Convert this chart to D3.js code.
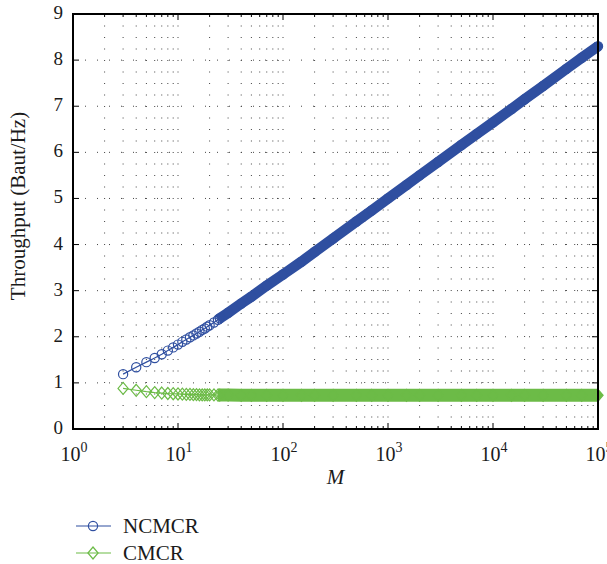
<!DOCTYPE html>
<html>
<head>
<meta charset="utf-8">
<script src="https://cdn.jsdelivr.net/npm/d3@7"></script>
<style>
  body { margin: 0; background: #fff; }
  svg text { font-family: "Liberation Serif", "DejaVu Serif", serif; fill: #1a1a1a; }
</style>
</head>
<body>
<div id="chart"></div>
<script>
// ---------- data ----------
var mValues = [3, 4, 5, 6, 7, 8, 9, 10, 11, 12, 13, 14, 15, 16, 17, 18, 19, 20, 22, 24,
               25, 30, 40, 50, 70, 100, 150, 200, 300, 500, 700, 1000, 1500, 2000,
               3000, 5000, 7000, 10000, 15000, 20000, 30000, 50000, 70000, 100000];
var ncmcr = [1.19, 1.34, 1.45, 1.54, 1.62, 1.70, 1.77, 1.83, 1.89, 1.94, 1.99, 2.03, 2.07, 2.11, 2.15, 2.18, 2.22, 2.25, 2.31, 2.37,
             2.40, 2.52, 2.72, 2.87, 3.11, 3.35, 3.63, 3.84, 4.13, 4.50, 4.74, 5.00, 5.29, 5.50,
             5.79, 6.16, 6.40, 6.65, 6.94, 7.15, 7.44, 7.81, 8.05, 8.30];
var cmcr = [0.88, 0.84, 0.81, 0.79, 0.78, 0.77, 0.765, 0.76, 0.755, 0.75, 0.75, 0.745, 0.745, 0.74, 0.74, 0.74, 0.74, 0.74, 0.74, 0.735,
            0.735, 0.735, 0.73, 0.73, 0.73, 0.73, 0.73, 0.73, 0.73, 0.73, 0.73, 0.73, 0.73, 0.73,
            0.73, 0.73, 0.73, 0.73, 0.73, 0.73, 0.73, 0.73, 0.73, 0.73];
var seriesNames = ["NCMCR", "CMCR"];
var yTicks = [0, 1, 2, 3, 4, 5, 6, 7, 8, 9];
var xExponents = [0, 1, 2, 3, 4, 5];

// ---------- layout ----------
var width = 607, height = 564;
var m = {left: 73, right: 598, top: 14, bottom: 429};
var blue = "#2f4fa0", green = "#6cbb47";

var svg = d3.select("#chart").append("svg")
    .attr("width", width)
    .attr("height", height);

var x_scale = d3.scaleLog().domain([1, 1e5]).range([m.left, m.right]);
var y_scale = d3.scaleLinear().domain([0, 9]).range([m.bottom, m.top]);

// ---------- grid ----------
var minorX = [];
xExponents.forEach(function(e) {
  for (var k = 1; k <= 9; k++) {
    var v = k * Math.pow(10, e);
    if (v <= 1e5) minorX.push(v);
  }
});

svg.append("g").selectAll("line")
   .data(minorX.filter(function(v){ return v > 1 && v < 1e5; }))
   .enter().append("line")
   .attr("x1", function(d){ return x_scale(d); })
   .attr("x2", function(d){ return x_scale(d); })
   .attr("y1", m.bottom).attr("y2", m.top)
   .style("stroke", "#444")
   .style("stroke-width", 1)
   .style("stroke-dasharray", "1,10.5");

svg.append("g").selectAll("line")
   .data(yTicks.slice(1, -1))
   .enter().append("line")
   .attr("x1", m.left).attr("x2", m.right)
   .attr("y1", function(d){ return y_scale(d); })
   .attr("y2", function(d){ return y_scale(d); })
   .style("stroke", "#444")
   .style("stroke-width", 1)
   .style("stroke-dasharray", "1,11");

// ---------- ticks (inward, all sides) ----------
var tickG = svg.append("g").style("stroke", "#000").style("stroke-width", 1);
minorX.forEach(function(v) {
  var isMajor = Math.abs(Math.log10(v) - Math.round(Math.log10(v))) < 1e-9;
  var len = isMajor ? 6 : 3;
  var xx = x_scale(v);
  tickG.append("line").attr("x1", xx).attr("x2", xx).attr("y1", m.bottom).attr("y2", m.bottom - len);
  tickG.append("line").attr("x1", xx).attr("x2", xx).attr("y1", m.top).attr("y2", m.top + len);
});
yTicks.forEach(function(v) {
  var yy = y_scale(v);
  tickG.append("line").attr("x1", m.left).attr("x2", m.left + 6).attr("y1", yy).attr("y2", yy);
  tickG.append("line").attr("x1", m.right).attr("x2", m.right - 6).attr("y1", yy).attr("y2", yy);
});

// ---------- series ----------
var data = mValues.map(function(mv, i){ return {m: mv, a: ncmcr[i], b: cmcr[i]}; });
var bandData = data.filter(function(d){ return d.m >= 24; });

var lineA = d3.line().x(function(d){ return x_scale(d.m); }).y(function(d){ return y_scale(d.a); });
var lineB = d3.line().x(function(d){ return x_scale(d.m); }).y(function(d){ return y_scale(d.b); });

var plot = svg.append("g");

// CMCR
plot.append("path").attr("d", lineB(data))
    .style("fill", "none").style("stroke", green).style("stroke-width", 1.2);
plot.append("path").attr("d", lineB(bandData))
    .style("fill", "none").style("stroke", green).style("stroke-width", 13);
function diamond(s) { return "M0," + (-s) + "L" + (s * 0.85) + ",0L0," + s + "L" + (-s * 0.85) + ",0Z"; }
plot.append("g").selectAll("path")
    .data(data).enter().append("path")
    .attr("d", diamond(6))
    .attr("transform", function(d){ return "translate(" + x_scale(d.m) + "," + y_scale(d.b) + ")"; })
    .style("fill", function(d, i){ return i == data.length - 1 ? green : "none"; })
    .style("stroke", green).style("stroke-width", 1.2);

// NCMCR
plot.append("path").attr("d", lineA(data))
    .style("fill", "none").style("stroke", blue).style("stroke-width", 1.2);
plot.append("path").attr("d", lineA(bandData))
    .style("fill", "none").style("stroke", blue).style("stroke-width", 10.5);
plot.append("g").selectAll("circle")
    .data(data).enter().append("circle")
    .attr("cx", function(d){ return x_scale(d.m); })
    .attr("cy", function(d){ return y_scale(d.a); })
    .attr("r", 4.6)
    .style("fill", function(d, i){ return i == data.length - 1 ? blue : "none"; })
    .style("stroke", blue).style("stroke-width", 1.2);

// ---------- frame ----------
svg.append("rect")
   .attr("x", m.left).attr("y", m.top)
   .attr("width", m.right - m.left).attr("height", m.bottom - m.top)
   .style("fill", "none").style("stroke", "#000").style("stroke-width", 2);

// ---------- tick labels ----------
svg.append("g").selectAll("text")
   .data(yTicks).enter().append("text")
   .attr("x", m.left - 10)
   .attr("y", function(d){ return y_scale(d) + 5; })
   .attr("text-anchor", "end")
   .style("font-size", "19px")
   .text(function(d){ return d; });

var xl = svg.append("g").selectAll("text")
   .data(xExponents).enter().append("text")
   .attr("x", function(d){ return x_scale(Math.pow(10, d)) + 1; })
   .attr("y", 461)
   .attr("text-anchor", "middle")
   .style("font-size", "20px");
xl.append("tspan").text("10");
xl.append("tspan").attr("dy", -9).style("font-size", "14px").text(function(d){ return d; });

// ---------- axis titles ----------
svg.append("text")
   .attr("x", (m.left + m.right) / 2)
   .attr("y", 484)
   .attr("text-anchor", "middle")
   .style("font-size", "21px")
   .style("font-style", "italic")
   .text("M");

svg.append("text")
   .attr("transform", "translate(25," + 206 + ") rotate(-90)")
   .attr("text-anchor", "middle")
   .style("font-size", "21px")
   .text("Throughput (Baut/Hz)");

// ---------- legend ----------
var legend = svg.append("g");
[0, 1].forEach(function(i) {
  var ly = 526 + i * 27;
  var col = i == 0 ? blue : green;
  legend.append("line").attr("x1", 76).attr("x2", 111).attr("y1", ly).attr("y2", ly)
        .style("stroke", col).style("stroke-width", 1.2);
  if (i == 0) {
    legend.append("circle").attr("cx", 93).attr("cy", ly).attr("r", 4.6)
          .style("fill", "none").style("stroke", col).style("stroke-width", 1.2);
  } else {
    legend.append("path").attr("d", diamond(6)).attr("transform", "translate(93," + ly + ")")
          .style("fill", "none").style("stroke", col).style("stroke-width", 1.2);
  }
  legend.append("text").attr("x", 123).attr("y", ly + 7)
        .style("font-size", "21px")
        .text(seriesNames[i]);
});
</script>
</body>
</html>
